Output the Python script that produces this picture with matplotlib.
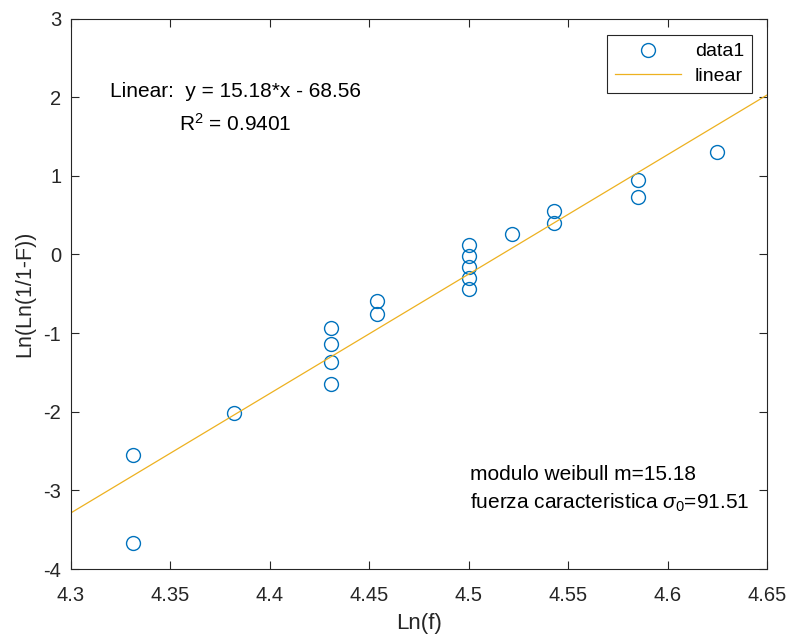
import matplotlib.pyplot as plt
import numpy as np

plt.rcParams['font.family'] = ['Liberation Sans', 'DejaVu Sans']
plt.rcParams['mathtext.fontset'] = 'custom'
plt.rcParams['mathtext.rm'] = 'Liberation Sans'
plt.rcParams['mathtext.it'] = 'Liberation Sans:italic'
plt.rcParams['axes.unicode_minus'] = False

# data
ln_f = [4.331, 4.331, 4.382, 4.431, 4.431, 4.431, 4.431, 4.454, 4.454,
        4.500, 4.500, 4.500, 4.500, 4.500, 4.522, 4.543, 4.543,
        4.585, 4.585, 4.625]
ln_ln = [-3.673, -2.551, -2.013, -1.648, -1.367, -1.135, -0.934, -0.755, -0.592,
         -0.439, -0.295, -0.156, -0.019, 0.117, 0.255, 0.400, 0.556,
         0.732, 0.952, 1.305]
slope = 15.18
intercept = -68.56
x_range = [4.3, 4.65]

ax_col = '#262626'
blue = '#0072BD'
gold = '#EDB120'

fig = plt.figure(figsize=(7.92, 6.41), dpi=100)
ax = fig.add_axes([0.0896, 0.1123, 0.8788, 0.8588])

ax.plot(ln_f, ln_ln, 'o', mfc='none', mec=blue, ms=10, mew=1.0, label='data1')
xl = np.array(x_range)
ax.plot(xl, slope * xl + intercept, '-', color=gold, lw=0.9, label='linear')

ax.set_xlim(4.3, 4.65)
ax.set_ylim(-4, 3)
xt = np.arange(4.3, 4.651, 0.05)
ax.set_xticks(xt)
ax.set_xticklabels(['4.3', '4.35', '4.4', '4.45', '4.5', '4.55', '4.6', '4.65'])
ax.set_yticks(range(-4, 4))
ax.tick_params(direction='in', length=6, width=0.8, colors=ax_col, labelsize=14.5,
               top=True, right=True)
ax.tick_params(axis='x', pad=12)
ax.tick_params(axis='y', pad=7)
for s in ax.spines.values():
    s.set_color(ax_col)
    s.set_linewidth(0.8)

ax.set_xlabel('Ln(f)', fontsize=16, color=ax_col, labelpad=6)
ax.set_ylabel('Ln(Ln(1/1-F))', fontsize=15.5, color=ax_col, labelpad=6)

ax.text(4.3825, 1.86, 'Linear:  y = 15.18*x - 68.56\nR$^2$ = 0.9401',
        ha='center', va='center', multialignment='center', fontsize=15,
        linespacing=1.65)
ax.text(4.5007, -2.99, 'modulo weibull m=15.18\nfuerza caracteristica $\\sigma_0$=91.51',
        ha='left', va='center', fontsize=15, linespacing=1.5)

leg = ax.legend(loc='upper right', bbox_to_anchor=(0.978, 0.970), fontsize=14,
                fancybox=False, framealpha=1, edgecolor=ax_col,
                handlelength=3.4, handletextpad=0.7, borderpad=0.4,
                borderaxespad=0, labelspacing=0.35)
leg.get_frame().set_linewidth(0.8)

fig.savefig('out.png', dpi=100)
